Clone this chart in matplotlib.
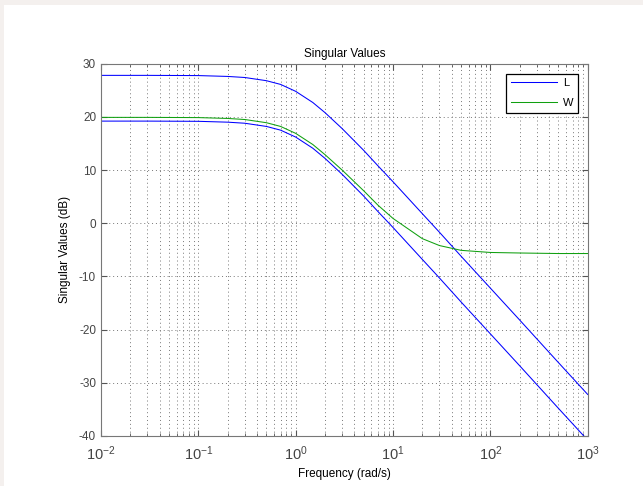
import numpy as np
import matplotlib

matplotlib.use('agg')
import matplotlib.pyplot as plt
from matplotlib.ticker import LogLocator, FixedLocator
from matplotlib.patches import Rectangle

# values (frequency in rad/s, singular values in dB)
freq = [0.01, 0.03, 0.1, 0.2, 0.3, 0.5, 0.7, 1, 1.5, 2, 3, 5, 7,
        10, 20, 30, 50, 100, 200, 500, 1000]
L_sv1 = [27.8, 27.8, 27.76, 27.6, 27.4, 26.8, 26.1, 24.8, 22.7, 20.8, 17.8,
         13.7, 10.8, 7.8, 1.8, -1.7, -6.2, -12.2, -18.2, -26.2, -32.2]
L_sv2 = [19.2, 19.2, 19.16, 19.0, 18.8, 18.2, 17.5, 16.2, 14.1, 12.2, 9.2,
         5.1, 2.2, -0.8, -6.8, -10.3, -14.8, -20.8, -26.8, -34.8, -40.8]
W_sv = [19.9, 19.9, 19.86, 19.7, 19.5, 18.9, 18.2, 16.9, 14.8, 12.9, 10.0,
        6.1, 3.4, 0.9, -2.9, -4.2, -5.1, -5.5, -5.6, -5.7, -5.7]

xtick_exp = [-2, -1, 0, 1, 2, 3]
ytick_vals = [-40, -30, -20, -10, 0, 10, 20, 30]

title = "Singular Values"
xlab = "Frequency (rad/s)"
ylab = "Singular Values (dB)"

plt.rcParams['font.family'] = ['Liberation Sans', 'DejaVu Sans']
plt.rcParams['mathtext.fontset'] = 'custom'
plt.rcParams['mathtext.rm'] = 'Liberation Sans'
plt.rcParams['mathtext.it'] = 'Liberation Sans'
plt.rcParams['axes.unicode_minus'] = False

fig = plt.figure(figsize=(6.43, 4.86), dpi=100)
# light frame on the top and left edge like the screenshot
fig.patch.set_facecolor('#f4f0ee')
fig.patches.append(Rectangle((4 / 643, 0), 1, 1 - 5 / 486, transform=fig.transFigure,
                             facecolor='white', edgecolor='none', zorder=-10))

ax0 = fig.add_axes([0.157, 0.103, 0.757, 0.766])

ax0.semilogx(freq, L_sv1, color='blue', lw=0.75, label='L')
ax0.semilogx(freq, W_sv, color='#10a010', lw=0.75, label='W')
ax0.semilogx(freq, L_sv2, color='blue', lw=0.75)

ax0.set_xlim(1e-2, 1e3)
ax0.set_ylim(-40, 30)
ax0.yaxis.set_major_locator(FixedLocator(ytick_vals))
ax0.set_xticks([10.0 ** e for e in xtick_exp])
ax0.set_xticklabels(['$10^{%d}$' % e for e in xtick_exp])
ax0.xaxis.set_minor_locator(LogLocator(base=10, subs=np.arange(2, 10), numticks=10))

gc = '#777777'
ax0.grid(True, which='major', color=gc, linestyle=(0, (1, 3)), lw=0.7)
ax0.grid(True, which='minor', axis='x', color=gc, linestyle=(0, (1, 3)), lw=0.7)

ax0.tick_params(which='both', direction='in', top=True, right=True,
                colors='#555555', labelsize=8.5, labelcolor='#444444')
ax0.tick_params(axis='x', which='major', labelsize=10.5, pad=6)
ax0.tick_params(which='major', length=4)
ax0.tick_params(which='minor', length=2.5)
for sp in ax0.spines.values():
    sp.set_color('#777777')

ax0.set_title(title, fontsize=8.5, pad=5)
ax0.set_xlabel(xlab, fontsize=8.5, labelpad=4)
ax0.set_ylabel(ylab, fontsize=8.5, labelpad=6)

leg = ax0.legend(loc='upper right', fontsize=8, fancybox=False, framealpha=1,
                 edgecolor='black', handlelength=4.2, borderaxespad=0.9,
                 handletextpad=0.5, labelspacing=0.9)
leg.get_frame().set_linewidth(0.9)

plt.savefig('out.png', dpi=100, facecolor=fig.get_facecolor())
